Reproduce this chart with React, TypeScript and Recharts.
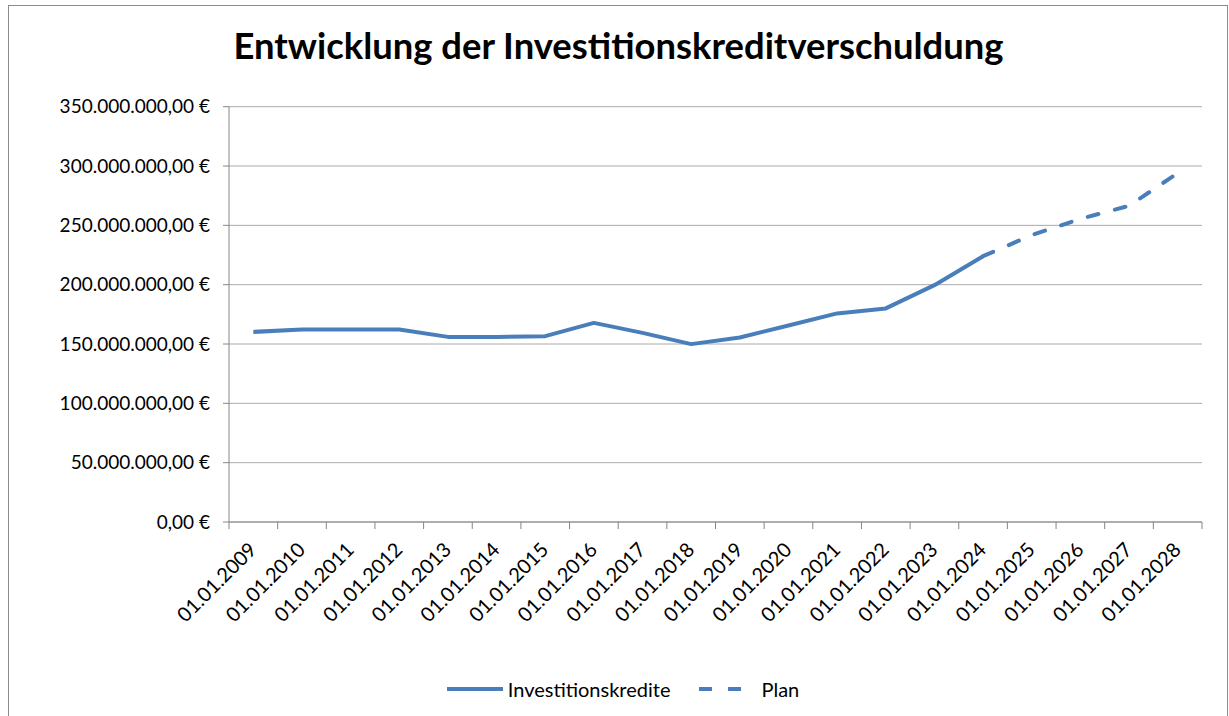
import React from "react";
import { LineChart, Line, XAxis, YAxis, CartesianGrid, Legend } from "recharts";

const categories = [
  "01.01.2009", "01.01.2010", "01.01.2011", "01.01.2012", "01.01.2013",
  "01.01.2014", "01.01.2015", "01.01.2016", "01.01.2017", "01.01.2018",
  "01.01.2019", "01.01.2020", "01.01.2021", "01.01.2022", "01.01.2023",
  "01.01.2024", "01.01.2025", "01.01.2026", "01.01.2027", "01.01.2028",
];

const investitionskredite: (number | null)[] = [
  160200000, 162300000, 162300000, 162300000, 156000000,
  156000000, 156600000, 167800000, 159400000, 149900000,
  155500000, 165600000, 175800000, 180000000, 199600000,
  224000000, null, null, null, null,
];

const plan: (number | null)[] = [
  null, null, null, null, null,
  null, null, null, null, null,
  null, null, null, null, null,
  224000000, 241800000, 255500000, 266500000, 294000000,
];

const yTicks = [0, 50000000, 100000000, 150000000, 200000000, 250000000, 300000000, 350000000];

const seriesNames = { investitionskredite: "Investitionskredite", plan: "Plan" };

const data = categories.map((date, i) => ({
  date,
  investitionskredite: investitionskredite[i],
  plan: plan[i],
}));

const W = 1229;
const H = 716;
const M = { top: 106.7, right: 27, left: 0, bottom: 12 };
const Y_AXIS_W = 229;
const X_AXIS_H = 152;
const LEGEND_H = 30;
const BAND = (W - M.left - M.right - Y_AXIS_W) / categories.length;

const BLUE = "#4A7EBB";
const AXIS = "#868686";
const GRID = "#ABABAB";
const FONT = "Lato, 'Open Sans', sans-serif";

function formatEuro(v: number): string {
  const s = Math.round(v).toString().replace(/\B(?=(\d{3})+(?!\d))/g, ".");
  return s + ",00 €";
}

function XTick(props: any) {
  const { x, y, payload, index } = props;
  const last = index === categories.length - 1;
  const ax = x + 4.5;
  const ay = y + 29;
  return (
    <g>
      <line x1={x - BAND / 2} x2={x - BAND / 2} y1={y} y2={y + 7} stroke={AXIS} strokeWidth={1} />
      {last && <line x1={x + BAND / 2} x2={x + BAND / 2} y1={y} y2={y + 7} stroke={AXIS} strokeWidth={1} />}
      <text
        x={ax}
        y={ay}
        transform={`rotate(-45, ${ax}, ${ay})`}
        textAnchor="end"
        fontFamily={FONT}
        fontSize={20}
        fill="#000"
      >
        {payload.value}
      </text>
    </g>
  );
}

function LegendContent(props: any) {
  const items = props.payload || [];
  return (
    <div
      style={{
        display: "flex",
        justifyContent: "center",
        alignItems: "center",
        height: LEGEND_H,
        paddingLeft: 44,
        fontFamily: FONT,
        fontSize: 20,
        color: "#000",
      }}
    >
      {items.map((it: any, i: number) => {
        const dashed = it.dataKey === "plan";
        return (
          <div key={i} style={{ display: "flex", alignItems: "center", marginLeft: i === 0 ? 0 : 29 }}>
            <svg width={dashed ? 45 : 56} height={10} style={{ marginRight: dashed ? 17 : 5 }}>
              <line
                x1={0}
                x2={dashed ? 45 : 56}
                y1={5}
                y2={5}
                stroke={it.color}
                strokeWidth={4}
                strokeDasharray={dashed ? "13 16" : undefined}
              />
            </svg>
            <span>{it.value}</span>
          </div>
        );
      })}
    </div>
  );
}

export default function App() {
  return (
    <div style={{ position: "absolute", left: 0, top: 0, width: W, height: H, background: "#fff", overflow: "hidden" }}>
      <div
        style={{
          position: "absolute",
          left: 8,
          top: 5,
          width: 1220,
          height: 711,
          boxSizing: "border-box",
          borderTop: "1.5px solid #8C8C8C",
          borderLeft: "1.5px solid #8C8C8C",
          borderRight: "1.5px solid #8C8C8C",
        }}
      />
      <div
        style={{
          position: "absolute",
          left: 4,
          top: 24.3,
          width: W,
          textAlign: "center",
          fontFamily: FONT,
          fontWeight: 700,
          fontSize: 36.4,
          lineHeight: "43.7px",
          color: "#000",
          whiteSpace: "nowrap",
        }}
      >
        Entwicklung der Investitionskreditverschuldung
      </div>
      <div style={{ position: "absolute", left: 0, top: 0 }}>
        <LineChart width={W} height={H} data={data} margin={M}>
          <CartesianGrid vertical={false} stroke={GRID} strokeWidth={1} />
          <XAxis
            dataKey="date"
            scale="band"
            interval={0}
            height={X_AXIS_H}
            tickLine={false}
            tickSize={0}
            tickMargin={0}
            axisLine={{ stroke: AXIS, strokeWidth: 1 }}
            tick={<XTick />}
          />
          <YAxis
            width={Y_AXIS_W}
            domain={[0, 350000000]}
            ticks={yTicks}
            interval={0}
            tickFormatter={formatEuro}
            tickSize={6}
            tickMargin={13}
            axisLine={{ stroke: AXIS, strokeWidth: 1 }}
            tickLine={{ stroke: AXIS, strokeWidth: 1 }}
            tick={{ fill: "#000", fontSize: 19, fontFamily: FONT }}
          />
          <Legend
            verticalAlign="bottom"
            height={LEGEND_H}
            wrapperStyle={{ height: LEGEND_H }}
            content={<LegendContent />}
          />
          <Line
            type="linear"
            dataKey="investitionskredite"
            name={seriesNames.investitionskredite}
            stroke={BLUE}
            strokeWidth={4}
            strokeLinejoin="round"
            dot={false}
            activeDot={false}
            isAnimationActive={false}
          />
          <Line
            type="linear"
            dataKey="plan"
            name={seriesNames.plan}
            stroke={BLUE}
            strokeWidth={4}
            strokeDasharray="11 17"
            strokeLinecap="round"
            strokeLinejoin="round"
            dot={false}
            activeDot={false}
            isAnimationActive={false}
          />
        </LineChart>
      </div>
    </div>
  );
}
